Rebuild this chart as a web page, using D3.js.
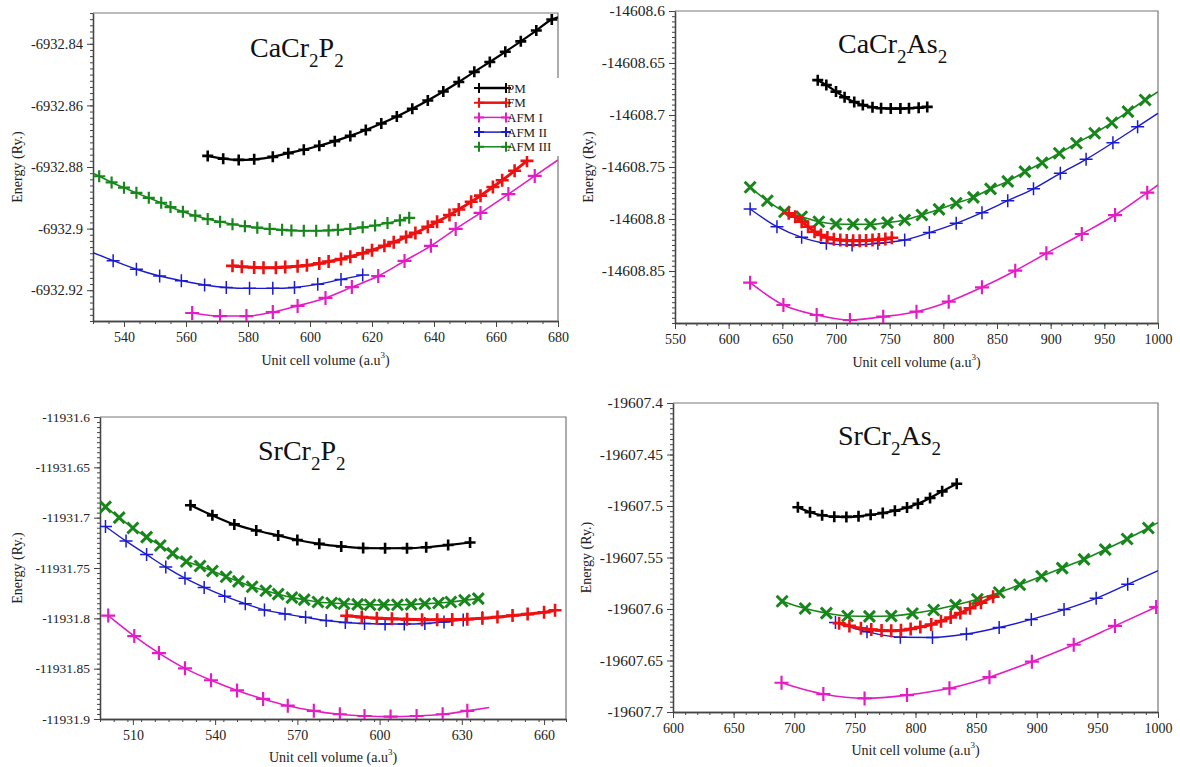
<!DOCTYPE html>
<meta charset="utf-8">
<style>
body { margin: 0; background: #fff; }
svg { font-family: "Liberation Serif", "Times New Roman", serif; }
.axis path, .axis line { stroke: #444; }
.axis text { fill: #222; }
.frame { fill: none; stroke: #777; stroke-width: 1.2; }
</style>
<body>
<svg width="1180" height="767"></svg>
<script src="https://cdn.jsdelivr.net/npm/d3@7"></script>
<script>

// phases, in legend order
var phases = ["PM", "FM", "AFM I", "AFM II", "AFM III"];

// [volume (a.u^3), energy (Ry)]  -- a third value 0 means: line only, no marker
var caP_PM = [[567,-6932.8764],[572,-6932.8773],[577,-6932.8777],[582,-6932.8775],[588,-6932.8767],[593,-6932.8755],[598,-6932.8744],[603,-6932.8731],[608,-6932.8716],[613,-6932.8699],[618,-6932.8680],[623,-6932.8659],[628,-6932.8636],[633,-6932.8611],[638,-6932.8584],[643,-6932.8555],[648,-6932.8524],[653,-6932.8491],[658,-6932.8459],[663,-6932.8426],[668,-6932.8392],[673,-6932.8357],[678,-6932.8321],[680,-6932.8314,0]];
var caP_FM = [[575,-6932.9121],[578,-6932.9124],[582,-6932.9126],[585,-6932.9127],[589,-6932.9127],[592,-6932.9125],[596,-6932.9122],[599,-6932.9119],[603,-6932.9113],[606,-6932.9107],[610,-6932.9099],[613,-6932.9091],[617,-6932.9080],[620,-6932.9070],[624,-6932.9056],[627,-6932.9044],[631,-6932.9027],[634,-6932.9014],[638,-6932.8994],[641,-6932.8978],[645,-6932.8956],[648,-6932.8938],[652,-6932.8913],[655,-6932.8893],[659,-6932.8865],[662,-6932.8843],[666,-6932.8812],[670,-6932.8780]];
var caP_AFM1 = [[562,-6932.9274],[571,-6932.9284],[579.5,-6932.9284],[588,-6932.9271],[596,-6932.9251],[605,-6932.9225],[613.5,-6932.9190],[622,-6932.9154],[630.5,-6932.9105],[639,-6932.9056],[647,-6932.9001],[655,-6932.8949],[664,-6932.8888],[672.5,-6932.8829],[680,-6932.8777,0]];
var caP_AFM2 = [[530,-6932.9078,0],[536.5,-6932.9104],[544,-6932.9132],[551.5,-6932.9154],[558.5,-6932.9169],[566,-6932.9183],[573,-6932.9191],[580.5,-6932.9194],[588,-6932.9194],[595,-6932.9191],[602.5,-6932.9181],[610,-6932.9165],[617,-6932.9151]];
var caP_AFM3 = [[530,-6932.8820,0],[532,-6932.8830],[536,-6932.8850],[540,-6932.8867],[544,-6932.8884],[548,-6932.8900],[552,-6932.8916],[555,-6932.8930],[559,-6932.8945],[563,-6932.8958],[567,-6932.8969],[571,-6932.8978],[575,-6932.8986],[579,-6932.8992],[583,-6932.8997],[587,-6932.9001],[591,-6932.9004],[594,-6932.9006],[598,-6932.9007],[602,-6932.9007],[606,-6932.9006],[609,-6932.9004],[613,-6932.9001],[617,-6932.8996],[621,-6932.8990],[625,-6932.8982],[629,-6932.8973],[632,-6932.8965]];

var caAs_PM = [[683,-14608.6665],[691,-14608.6712],[700,-14608.6775],[708,-14608.6830],[717,-14608.6875],[725,-14608.6905],[734,-14608.6925],[742,-14608.6935],[751,-14608.6938],[760,-14608.6938],[768,-14608.6935],[777,-14608.6930],[785,-14608.6922]];
var caAs_FM = [[656,-14608.7945],[662,-14608.7978],[668,-14608.8026],[674,-14608.8074],[680,-14608.8122],[686,-14608.8154],[692,-14608.8178],[698,-14608.8195],[704,-14608.8202],[710,-14608.8206],[716,-14608.8208],[722,-14608.8208],[728,-14608.8206],[734,-14608.8202],[740,-14608.8198],[746,-14608.8192],[752,-14608.8180]];
var caAs_AFM1 = [[620,-14608.8612],[651,-14608.8827],[682,-14608.8923],[713,-14608.8971],[744,-14608.8939],[775,-14608.8891],[805,-14608.8795],[836,-14608.8657],[867,-14608.8497],[896,-14608.8330],[929,-14608.8144],[960,-14608.7962],[990,-14608.7747],[1000,-14608.7673,0]];
var caAs_AFM2 = [[620,-14608.7904],[645,-14608.8074],[668,-14608.8176],[691,-14608.8234],[715,-14608.8250],[739,-14608.8234],[764,-14608.8202],[787,-14608.8131],[812,-14608.8042],[836,-14608.7939],[860,-14608.7824],[884,-14608.7710],[909,-14608.7561],[933,-14608.7426],[958,-14608.7266],[981,-14608.7112],[1000,-14608.6984,0]];
var caAs_AFM3 = [[620,-14608.7695],[636,-14608.7824],[652,-14608.7930],[668,-14608.7978],[684,-14608.8026],[700,-14608.8048],[716,-14608.8051],[732,-14608.8051],[748,-14608.8035],[764,-14608.8010],[780,-14608.7962],[796,-14608.7907],[812,-14608.7849],[828,-14608.7792],[844,-14608.7710],[860,-14608.7638],[876,-14608.7545],[892,-14608.7459],[908,-14608.7368],[924,-14608.7272],[941,-14608.7176],[957,-14608.7074],[972,-14608.6968],[988,-14608.6856],[1000,-14608.6776,0]];

var srP_PM = [[531,-11931.6877],[539,-11931.6977],[547,-11931.7067],[555,-11931.7127],[563,-11931.7177],[570,-11931.7222],[578,-11931.7260],[586,-11931.7286],[594,-11931.7302],[602,-11931.7304],[610,-11931.7303],[617,-11931.7294],[625,-11931.7272],[633,-11931.7247]];
var srP_FM = [[588,-11931.7975],[593.5,-11931.7988],[599,-11931.7998],[604.5,-11931.8005],[610,-11931.8010],[615.5,-11931.8013],[621,-11931.8014],[626.5,-11931.8012],[632,-11931.8008],[637.5,-11931.7999],[643,-11931.7987],[648.5,-11931.7972],[654,-11931.7958],[660,-11931.7940],[664,-11931.7920]];
var srP_AFM1 = [[501,-11931.7973],[510.5,-11931.8176],[519.5,-11931.8345],[529,-11931.8497],[538.5,-11931.8615],[548,-11931.8716],[557.5,-11931.8801],[566.5,-11931.8868],[576,-11931.8919],[585.5,-11931.8953],[594.5,-11931.8970],[604,-11931.8976],[613.5,-11931.8970],[623,-11931.8953],[632,-11931.8919],[640,-11931.8885,0]];
var srP_AFM2 = [[500,-11931.7087],[507.5,-11931.7233],[515,-11931.7367],[522,-11931.7491],[529,-11931.7601],[536,-11931.7693],[543.5,-11931.7780],[551,-11931.7855],[558,-11931.7916],[565.5,-11931.7956],[573,-11931.7990],[580.5,-11931.8022],[587.5,-11931.8041],[594.5,-11931.8051],[602,-11931.8057],[609,-11931.8057],[616.5,-11931.8051],[623.5,-11931.8036],[630.5,-11931.8017],[637.5,-11931.7995]];
var srP_AFM3 = [[500,-11931.6893],[505,-11931.7000],[510,-11931.7103],[515,-11931.7193],[520,-11931.7277],[524.5,-11931.7355],[529.5,-11931.7435],[534.5,-11931.7480],[539,-11931.7530],[544,-11931.7587],[548.5,-11931.7633],[553.5,-11931.7686],[558.5,-11931.7726],[563,-11931.7760],[568,-11931.7794],[572.5,-11931.7814],[577.5,-11931.7838],[582.5,-11931.7848],[587,-11931.7855],[592,-11931.7861],[596.5,-11931.7865],[601.5,-11931.7866],[606.5,-11931.7865],[611.5,-11931.7861],[616.5,-11931.7855],[621.5,-11931.7848],[626,-11931.7838],[631,-11931.7821],[636,-11931.7804]];

var srAs_PM = [[703,-19607.5012],[713,-19607.5060],[723,-19607.5090],[733,-19607.5104],[743,-19607.5106],[753,-19607.5100],[763,-19607.5085],[773,-19607.5068],[783,-19607.5045],[793,-19607.5014],[802,-19607.4978],[812,-19607.4922],[822,-19607.4858],[834,-19607.4784]];
var srAs_FM = [[737,-19607.6139],[745.5,-19607.6164],[755,-19607.6187],[763.5,-19607.6200],[772,-19607.6209],[780,-19607.6211],[788,-19607.6206],[796,-19607.6194],[804,-19607.6175],[813,-19607.6150],[821,-19607.6118],[829,-19607.6082],[837,-19607.6040],[845,-19607.5993],[854,-19607.5940],[864,-19607.5880]];
var srAs_AFM1 = [[689.5,-19607.6716],[724,-19607.6826],[758,-19607.6868],[793,-19607.6836],[828,-19607.6770],[861,-19607.6662],[896,-19607.6511],[930.5,-19607.6347],[964.5,-19607.6164],[998.5,-19607.5981]];
var srAs_AFM2 = [[734,-19607.6132],[760,-19607.6221],[787.5,-19607.6274],[814,-19607.6276],[842,-19607.6243],[869,-19607.6180],[895.5,-19607.6101],[922.5,-19607.6006],[949,-19607.5896],[975,-19607.5760],[1000,-19607.5628,0]];
var srAs_AFM3 = [[690,-19607.5925],[709,-19607.5995],[726.5,-19607.6040],[744,-19607.6068],[762,-19607.6072],[780,-19607.6068],[797.5,-19607.6044],[815,-19607.6010],[833,-19607.5962],[851,-19607.5905],[869,-19607.5840],[886,-19607.5765],[904,-19607.5682],[921,-19607.5603],[939,-19607.5518],[956.5,-19607.5423],[974.5,-19607.5320],[992,-19607.5214],[1000,-19607.5162,0]];

// tick labels
var caP_xTicks = [540, 560, 580, 600, 620, 640, 660, 680];
var caP_yTicks = [-6932.92, -6932.9, -6932.88, -6932.86, -6932.84];
var caAs_xTicks = [550, 600, 650, 700, 750, 800, 850, 900, 950, 1000];
var caAs_yTicks = [-14608.85, -14608.8, -14608.75, -14608.7, -14608.65, -14608.6];
var srP_xTicks = [510, 540, 570, 600, 630, 660];
var srP_yTicks = [-11931.9, -11931.85, -11931.8, -11931.75, -11931.7, -11931.65, -11931.6];
var srAs_xTicks = [600, 650, 700, 750, 800, 850, 900, 950, 1000];
var srAs_yTicks = [-19607.7, -19607.65, -19607.6, -19607.55, -19607.5, -19607.45, -19607.4];

var style = {
  "PM":      {color: "#000000", lw: 2.2, ms: 5.5, mw: 2.6},
  "FM":      {color: "#ee1111", lw: 3,   ms: 6.5, mw: 2.6},
  "AFM I":   {color: "#e41cc4", lw: 1.6, ms: 7,   mw: 2.2},
  "AFM II":  {color: "#1a1ad0", lw: 1.4, ms: 6.5, mw: 1.5},
  "AFM III": {color: "#17861b", lw: 1.6, ms: 6,   mw: 2.2}
};

var panels = [
  {title: ["CaCr", "2", "P", "2"], tx: 250, ty: 57,
   x0: 93, x1: 558, y0: 13, y1: 321, xDom: [530, 680], yDom: [-6932.93, -6932.83],
   xTicks: caP_xTicks, yTicks: caP_yTicks, xMinor: 5, yMinor: 0.002, yFont: 14.5,
   series: [caP_PM, caP_FM, caP_AFM1, caP_AFM2, caP_AFM3], cross: false, legend: true,
   ylx: 17, xly: 365},
  {title: ["CaCr", "2", "As", "2"], tx: 838, ty: 53,
   x0: 675, x1: 1158, y0: 11, y1: 323, xDom: [550, 1000], yDom: [-14608.9, -14608.6],
   xTicks: caAs_xTicks, yTicks: caAs_yTicks, xMinor: 10, yMinor: 0.005, yFont: 15.5,
   series: [caAs_PM, caAs_FM, caAs_AFM1, caAs_AFM2, caAs_AFM3], cross: true, legend: false,
   ylx: 588, xly: 367},
  {title: ["SrCr", "2", "P", "2"], tx: 258, ty: 460,
   x0: 100, x1: 566, y0: 417, y1: 719, xDom: [498, 668], yDom: [-11931.9, -11931.6],
   xTicks: srP_xTicks, yTicks: srP_yTicks, xMinor: 5, yMinor: 0.005, yFont: 13.5,
   series: [srP_PM, srP_FM, srP_AFM1, srP_AFM2, srP_AFM3], cross: true, legend: false,
   ylx: 17, xly: 762},
  {title: ["SrCr", "2", "As", "2"], tx: 838, ty: 445,
   x0: 673, x1: 1158, y0: 403, y1: 712, xDom: [600, 1000], yDom: [-19607.7, -19607.4],
   xTicks: srAs_xTicks, yTicks: srAs_yTicks, xMinor: 10, yMinor: 0.005, yFont: 15.5,
   series: [srAs_PM, srAs_FM, srAs_AFM1, srAs_AFM2, srAs_AFM3], cross: true, legend: false,
   ylx: 586, xly: 755}
];

var svg = d3.select("svg");

function plus(s) { return "M" + (-s) + ",0H" + s + "M0," + (-s) + "V" + s; }
function cross(s) { return "M" + (-s) + "," + (-s) + "L" + s + "," + s + "M" + (-s) + "," + s + "L" + s + "," + (-s); }

// draw order: AFM II, AFM III, AFM I, FM, PM
var order = [3, 4, 2, 1, 0];

panels.forEach(function(p, pi) {
  var x = d3.scaleLinear().domain(p.xDom).range([p.x0, p.x1]),
      y = d3.scaleLinear().domain(p.yDom).range([p.y1, p.y0]);

  var g = svg.append("g");

  g.append("clipPath").attr("id", "clip" + pi)
    .append("rect").attr("x", p.x0).attr("y", p.y0)
    .attr("width", p.x1 - p.x0).attr("height", p.y1 - p.y0);

  // minor ticks
  var nx = Math.round((p.xDom[1] - p.xDom[0]) / p.xMinor),
      ny = Math.round((p.yDom[1] - p.yDom[0]) / p.yMinor);
  g.append("g").attr("class", "axis")
      .attr("transform", "translate(0," + p.y1 + ")")
      .call(d3.axisBottom(x).tickValues(d3.range(nx + 1).map(function(i) { return p.xDom[0] + i * p.xMinor; }))
        .tickSize(3).tickSizeOuter(0).tickFormat(""));
  g.append("g").attr("class", "axis")
      .attr("transform", "translate(" + p.x0 + ",0)")
      .call(d3.axisLeft(y).tickValues(d3.range(ny + 1).map(function(i) { return p.yDom[0] + i * p.yMinor; }))
        .tickSize(3).tickSizeOuter(0).tickFormat(""));

  // major ticks + labels
  g.append("g").attr("class", "axis")
      .attr("transform", "translate(0," + p.y1 + ")")
      .call(d3.axisBottom(x).tickValues(p.xTicks).tickSize(6).tickSizeOuter(0).tickPadding(5)
        .tickFormat(d3.format("d")))
      .selectAll("text").attr("font-size", 14).attr("font-family", "Liberation Serif");
  g.append("g").attr("class", "axis")
      .attr("transform", "translate(" + p.x0 + ",0)")
      .call(d3.axisLeft(y).tickValues(p.yTicks).tickSize(6).tickSizeOuter(0).tickPadding(4)
        .tickFormat(function(d) { return String(+d.toFixed(2)); }))
      .selectAll("text").attr("font-size", p.yFont).attr("font-family", "Liberation Serif");

  g.selectAll(".axis path").attr("stroke-width", 1.3);

  // top + right frame
  g.append("path").attr("class", "frame")
    .attr("d", "M" + p.x0 + "," + p.y0 + "H" + p.x1 + "V" + p.y1);

  // curves
  var line = d3.line().curve(d3.curveMonotoneX)
      .x(function(d) { return x(d[0]); })
      .y(function(d) { return y(d[1]); });

  var plotG = g.append("g").attr("clip-path", "url(#clip" + pi + ")");
  order.forEach(function(k) {
    var name = phases[k], st = style[name], data = p.series[k];
    var isX = p.cross && name === "AFM III";
    plotG.append("path").datum(data)
      .attr("fill", "none").attr("stroke", st.color).attr("stroke-width", st.lw)
      .attr("d", line);
    plotG.selectAll(null)
      .data(data.filter(function(d) { return d[2] !== 0; }))
      .enter().append("path")
        .attr("transform", function(d) { return "translate(" + x(d[0]) + "," + y(d[1]) + ")"; })
        .attr("d", isX ? cross(5.5) : plus(st.ms))
        .attr("fill", "none").attr("stroke", st.color)
        .attr("stroke-width", isX ? 3 : st.mw);
  });

  // compound label
  var t = g.append("text").attr("x", p.tx).attr("y", p.ty).attr("fill", "#111");
  p.title.forEach(function(s, i) {
    t.append("tspan").text(s)
      .attr("font-size", i % 2 ? 19 : 28)
      .attr("dy", i % 2 ? 10 : (i ? -10 : 0));
  });

  // axis titles
  var xl = g.append("text").attr("x", (p.x0 + p.x1) / 2).attr("y", p.xly)
    .attr("text-anchor", "middle").attr("font-size", 14).attr("fill", "#222");
  xl.append("tspan").text("Unit cell volume (a.u");
  xl.append("tspan").text("3").attr("font-size", 9).attr("dy", -7);
  xl.append("tspan").text(")").attr("dy", 7);

  g.append("text")
    .attr("transform", "translate(" + p.ylx + "," + (p.y0 + p.y1) / 2 + ") rotate(-90)")
    .attr("text-anchor", "middle").attr("dy", "0.35em")
    .attr("font-size", 14).attr("fill", "#222")
    .text("Energy (Ry.)");

  if (p.legend) {
    var lg = g.append("g");
    lg.append("rect").attr("x", 474).attr("y", 78).attr("width", 90).attr("height", 78).attr("fill", "#fff");
    phases.forEach(function(name, i) {
      var st = style[name], ly = 88 + i * 14.7;
      lg.append("line").attr("x1", 479).attr("x2", 506).attr("y1", ly).attr("y2", ly)
        .attr("stroke", st.color).attr("stroke-width", name === "FM" || name === "PM" ? 2.5 : 1.5);
      [479, 506].forEach(function(mx) {
        lg.append("path").attr("transform", "translate(" + mx + "," + ly + ")")
          .attr("d", plus(5)).attr("fill", "none").attr("stroke", st.color).attr("stroke-width", 2);
      });
      lg.append("text").attr("x", 507).attr("y", ly + 4.5).attr("font-size", 13).attr("fill", "#222").text(name);
    });
  }
});

</script>
</body>
